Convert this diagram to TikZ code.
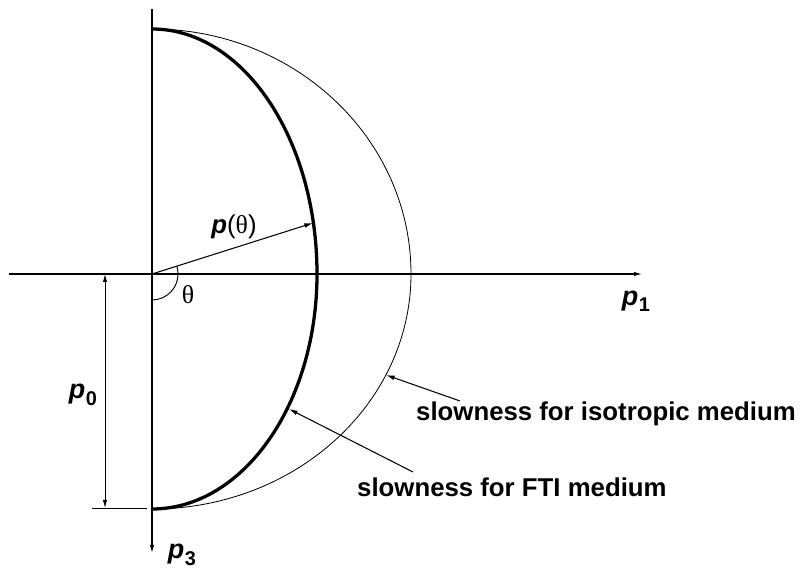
\documentclass[tikz,border=0pt]{standalone}
\usepackage{fontspec}
\setmainfont{Liberation Sans}
\newfontfamily\greekfont{Liberation Serif}
\usetikzlibrary{arrows.meta,positioning}

\newcommand{\pvar}[1]{{\bfseries\itshape p}\kern0.5pt\raisebox{-0.45ex}{\fontsize{17}{17}\selectfont\bfseries #1}}

\begin{document}
\begin{tikzpicture}[
  x=0.03cm, y=0.03cm,
  font=\fontsize{23}{27}\selectfont,
  axis/.style={-{Latex[length=2.4mm, width=1.3mm]}, line width=0.9pt},
  fti/.style={line width=2.8pt},
  iso/.style={line width=0.7pt},
  dim/.style={{Latex[length=2.4mm, width=1.3mm]}-{Latex[length=2.4mm, width=1.3mm]}, line width=0.8pt},
  pointer/.style={-{Latex[length=2.6mm, width=1.4mm]}, line width=0.9pt},
  textlabel/.style={font=\fontsize{22}{26}\selectfont\bfseries, anchor=west, inner sep=0pt},
  sym/.style={inner sep=0pt}
]
\useasboundingbox (-152,-299) rectangle (658,274);

% axes
\coordinate (O) at (0,0);
\coordinate (xStart) at (-143,0);
\coordinate (xEnd) at (490,0);
\coordinate (yStart) at (0,265);
\coordinate (yEnd) at (0,-279);
\draw[axis] (xStart) -- (xEnd);
\draw[axis] (yStart) -- (yEnd);

% slowness curves
\coordinate (top) at (0,245);
\draw[iso] (top) arc[start angle=90, end angle=0, x radius=259, y radius=245]
  arc[start angle=0, end angle=-90, x radius=259, y radius=235];
\draw[fti] (top) arc[start angle=90, end angle=0, x radius=165, y radius=245]
  arc[start angle=0, end angle=-90, x radius=165, y radius=235];

% p(theta) and angle
\coordinate (pTip) at (161,51);
\draw[pointer] (O) -- (pTip);
\draw[line width=0.8pt] (O) ++(17.7:26) arc[start angle=17.7, end angle=-90, radius=26];
\node[sym] (pth) at (82,47) {\fontsize{22}{24}\selectfont{\bfseries\itshape p}({\greekfont θ})};
\node[sym] (th) at (36,-21) {\fontsize{22}{24}\selectfont\greekfont θ};

% p0 dimension
\coordinate (dimTop) at (-47,0);
\coordinate (dimBot) at (-47,-234);
\coordinate (tickL) at (-60,-234);
\coordinate (tickR) at (-5,-234);
\draw[dim] (dimTop) -- (dimBot);
\draw[line width=0.8pt] (tickL) -- (tickR);

% axis labels
\node[sym] (p1) at (484,-27) {\pvar{1}};
\node[sym] (p3) at (30,-281) {\pvar{3}};
\node[sym] (p0) at (-69,-121) {\pvar{0}};

% curve labels
\node[textlabel] (isoText) at (264,-140) {slowness for isotropic medium};
\node[textlabel] (ftiText) at (205,-213) {slowness for FTI medium};
\coordinate (isoTail) at (308,-127);
\coordinate (isoPt) at (234,-101);
\coordinate (ftiTail) at (261,-198);
\coordinate (ftiPt) at (137,-135);
\draw[pointer] (isoTail) -- (isoPt);
\draw[pointer] (ftiTail) -- (ftiPt);
\end{tikzpicture}
\end{document}
